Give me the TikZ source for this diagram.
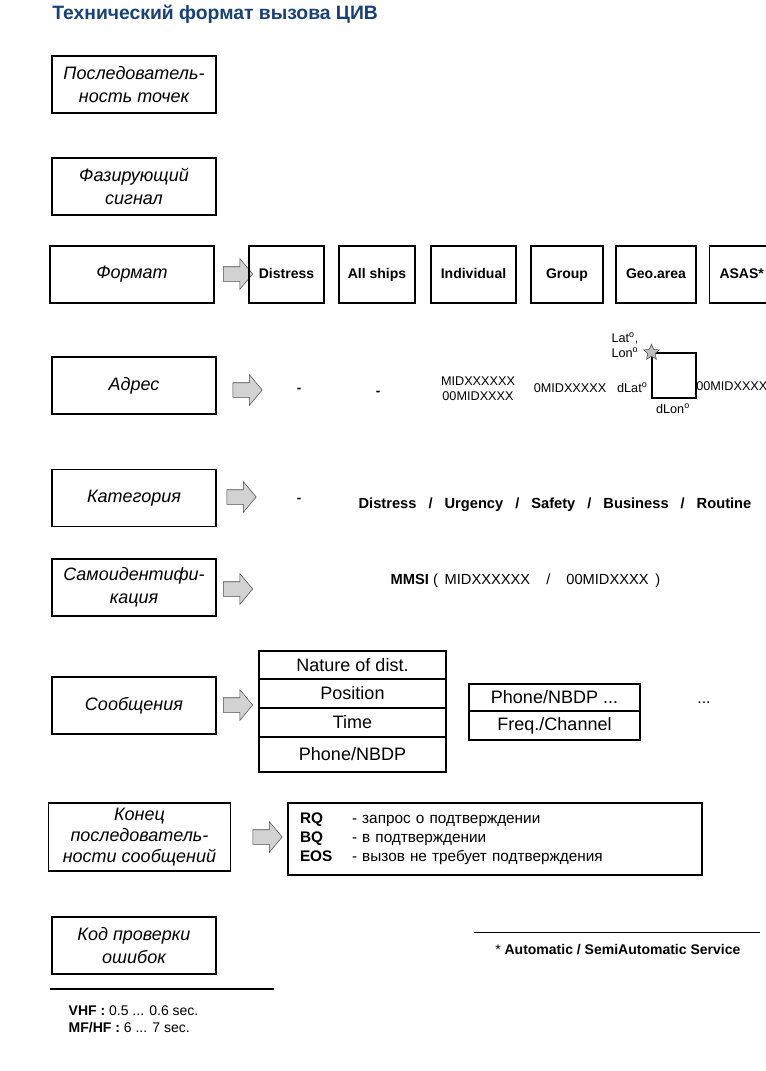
\documentclass[tikz,border=0pt]{standalone}
\usepackage{fontspec}
\setmainfont{Liberation Sans}
\usetikzlibrary{shapes.arrows,shapes.geometric}
\definecolor{titleblue}{RGB}{24,64,125}

\begin{document}
\begin{tikzpicture}[x=0.75pt, y=-0.75pt]
\tikzset{
  field/.style={draw, line width=0.8pt, minimum width=123pt, minimum height=42.75pt, align=center, inner sep=1pt, font=\fontsize{13.5}{17}\selectfont\itshape},
  choice/.style={draw, line width=0.8pt, minimum height=42.75pt, text height=8pt, text depth=2.5pt, font=\fontsize{10.5}{12}\selectfont\bfseries},
  fwd/.style={single arrow, draw=gray!60!black, fill=gray!35, minimum height=22pt, single arrow head extend=6pt, single arrow tip angle=100, inner sep=0pt},
  cell/.style={draw, line width=0.8pt, inner sep=0pt, font=\fontsize{13.5}{15}\selectfont},
  val/.style={font=\fontsize{9.5}{11.25}\selectfont},
  nilmark/.style={font=\fontsize{10}{12}\selectfont\bfseries}
}
\useasboundingbox (0,0) rectangle (766,1071);

\node[anchor=west, inner sep=0pt, text=titleblue, font=\fontsize{14.5}{16}\selectfont\bfseries] (title) at (52,14) {Технический формат вызова ЦИВ};

% fields of the call
\node[field] (dots) at (134,84.5) {Последователь-\\ность точек};
\node[field] (phasing) at (134,186.5) {Фазирующий\\сигнал};
\node[field] (format) at (132,274.5) {Формат};
\node[field] (address) at (134,385.5) {Адрес};
\node[field] (category) at (134,498) {Категория};
\node[field] (selfid) at (134,587.5) {Самоидентифи-\\кация};
\node[field] (messages) at (134,705.5) {Сообщения};
\node[field, minimum width=137pt, minimum height=51pt, font=\fontsize{13.5}{15.5}\selectfont\itshape] (eos) at (139.5,837) {Конец\\последователь-\\ности сообщений};
\node[field] (ecc) at (134,945.5) {Код проверки\\ошибок};

\node[fwd] (a-format) at (235,274) {\rule{0pt}{10.5pt}};
\node[fwd] (a-address) at (244.5,390) {\rule{0pt}{10.5pt}};
\node[fwd] (a-category) at (238.5,497) {\rule{0pt}{10.5pt}};
\node[fwd] (a-selfid) at (235,589) {\rule{0pt}{10.5pt}};
\node[fwd] (a-messages) at (235,705) {\rule{0pt}{10.5pt}};
\node[fwd] (a-eos) at (264.5,837) {\rule{0pt}{10.5pt}};

% format
\node[choice, minimum width=56.25pt] (distress) at (286.5,274.5) {Distress};
\node[choice, minimum width=57pt] (allships) at (377,274.5) {All ships};
\node[choice, minimum width=63.75pt] (individual) at (473.5,274.5) {Individual};
\node[choice, minimum width=54pt] (group) at (567,274.5) {Group};
\node[choice, minimum width=60pt] (geoarea) at (656,274.5) {Geo.area};
\node[choice, anchor=west, text width=45pt, inner xsep=7.5pt, align=left] (asas) at (709,274.5) {ASAS*};

% address
\node[nilmark] (addr-distress) at (299,390) {-};
\node[nilmark] (addr-allships) at (378,393) {-};
\node[val, align=center] (addr-individual) at (478,388.5) {MIDXXXXXX\\00MIDXXXX};
\node[val] (addr-group) at (570,388) {0MIDXXXXX};
\node[draw, line width=0.8pt, minimum width=33pt, minimum height=33.75pt] (area) at (674,375.5) {};
\node[star, star points=5, star point ratio=2.2, fill=gray!50, draw=gray!60!black, minimum size=12.5pt, inner sep=0pt] (corner) at (area.north west) {};
\node[val, align=left, anchor=east] (latlon) at (643,345) {Lat\textsuperscript{o},\\Lon\textsuperscript{o}};
\node[val, anchor=east, inner sep=1pt] (dlat) at (649,388) {dLat\textsuperscript{o}};
\node[val] (dlon) at (673,409) {dLon\textsuperscript{o}};
\node[val, anchor=west, inner sep=0pt] (addr-asas) at (696,386) {00MIDXXXX};

% category
\node[nilmark] (cat-distress) at (299,500) {-};
\node[font=\fontsize{11}{13}\selectfont\bfseries] (cat-list) at (555,505) {Distress\hspace{9pt}/\hspace{9pt}Urgency\hspace{9pt}/\hspace{9pt}Safety\hspace{9pt}/\hspace{9pt}Business\hspace{9pt}/\hspace{9pt}Routine};

% self-identification
\node[font=\fontsize{11}{13}\selectfont] (mmsi) at (525.5,581) {\textbf{MMSI} (\hspace{2pt} MIDXXXXXX\hspace{12pt}/\hspace{12pt}00MIDXXXX\hspace{2pt} )};

% messages
\node[cell, minimum width=140.25pt, minimum height=21pt] (nature) at (352.5,665) {Nature of dist.};
\node[cell, minimum width=140.25pt, minimum height=21.75pt] (position) at (352.5,693.5) {Position};
\node[cell, minimum width=140.25pt, minimum height=21.75pt] (time) at (352.5,722.5) {Time};
\node[cell, minimum width=140.25pt, minimum height=26.25pt] (phone) at (352.5,754.5) {Phone/NBDP};
\node[cell, minimum width=128.25pt, minimum height=20.25pt] (phonemore) at (554.5,697.5) {Phone/NBDP ...};
\node[cell, minimum width=128.25pt, minimum height=21.75pt] (freq) at (554.5,725.5) {Freq./Channel};
\node[font=\fontsize{12}{14}\selectfont] (more) at (704,703) {...};

% end of sequence
\node[draw, line width=0.8pt, minimum width=310.5pt, minimum height=54pt, text width=292.5pt, inner xsep=9pt, align=left, font=\fontsize{11.5}{14.25}\selectfont] (eoslist) at (495,839) {\makebox[39pt][l]{\textbf{RQ}}- запрос о подтверждении\\\makebox[39pt][l]{\textbf{BQ}}- в подтверждении\\\makebox[39pt][l]{\textbf{EOS}}- вызов не требует подтверждения};

% notes
\coordinate (rule-l) at (50,989);
\coordinate (rule-r) at (274,989);
\draw[line width=1.5pt] (rule-l) -- (rule-r);
\node[anchor=west, align=left, font=\fontsize{10.5}{12.75}\selectfont] (timing) at (64,1019.5) {\textbf{VHF :} 0.5 ... 0.6 sec.\\\textbf{MF/HF :} 6 ... 7 sec.};

\coordinate (note-l) at (474,932);
\coordinate (note-r) at (760,932);
\draw[line width=0.6pt] (note-l) -- (note-r);
\node[anchor=west, inner sep=0pt, font=\fontsize{10.5}{12}\selectfont] (footnote) at (495,950) {* \textbf{Automatic / SemiAutomatic Service}};

\end{tikzpicture}
\end{document}
